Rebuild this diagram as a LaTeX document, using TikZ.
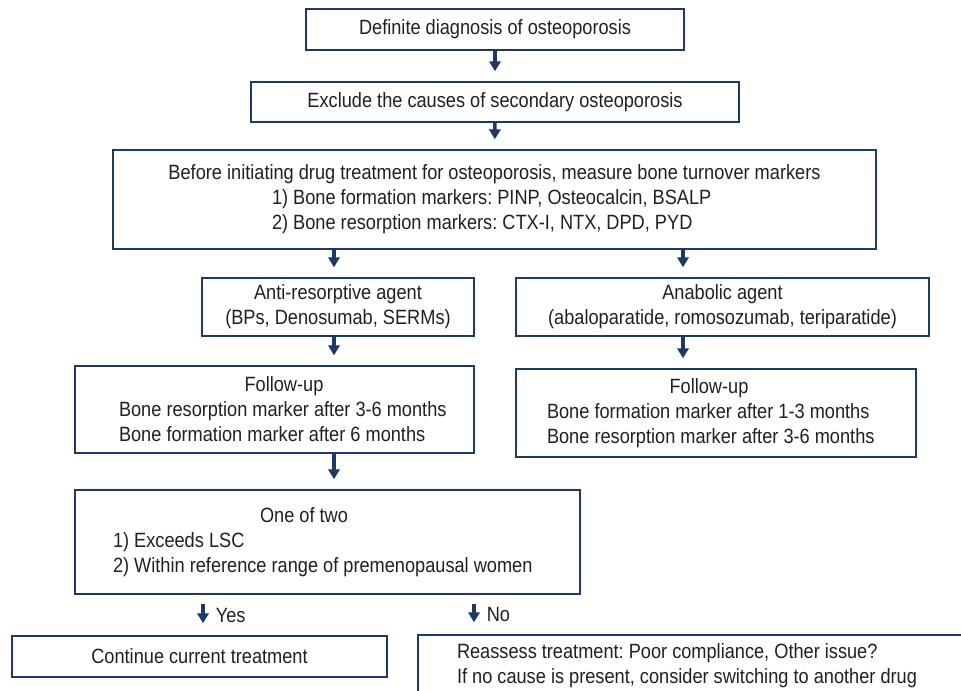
\documentclass[tikz,border=0pt]{standalone}
\usepackage{fontspec}
\setmainfont{Liberation Sans}[FakeStretch=0.88]
\usepackage{tikz}
\usetikzlibrary{arrows.meta}
\definecolor{boxline}{HTML}{1F3864}
\definecolor{ink}{HTML}{231F20}
\newcommand{\lline}[2]{\makebox[#1][l]{#2}}
\frenchspacing

\begin{document}
\begin{tikzpicture}[x=0.75pt,y=-0.75pt,>={Triangle[length=7.5pt,width=8.5pt]},
box/.style={draw=boxline,line width=1.1pt,text=ink,align=center,inner sep=0pt,
font=\fontsize{15.5}{18.75}\selectfont},
arr/.style={->,draw=boxline,line width=2.6pt,shorten >=7.5pt},
lab/.style={right=5pt,text=ink,font=\fontsize{15.5}{18.75}\selectfont}]
\useasboundingbox (0,0) rectangle (961,690);
\clip (0,0) rectangle (961,690);
\node[box,minimum width=283.5pt,minimum height=30.75pt] (diag) at (495,29.5)
{Definite diagnosis of osteoporosis};
\node[box,minimum width=366pt,minimum height=30pt] (excl) at (495,102)
{Exclude the causes of secondary osteoporosis};
\node[box,minimum width=572.25pt,minimum height=74.25pt] (meas) at (494.5,199.5)
{Before initiating drug treatment for osteoporosis, measure bone turnover markers\\
\lline{333.75pt}{1) Bone formation markers: PINP, Osteocalcin, BSALP}\\
\lline{333.75pt}{2) Bone resorption markers: CTX-I, NTX, DPD, PYD}};
\node[box,minimum width=204pt,minimum height=43.5pt] (anti) at (338,307)
{Anti-resorptive agent\\(BPs, Denosumab, SERMs)};
\node[box,minimum width=309.75pt,minimum height=43.5pt] (anab) at (722.5,307)
{Anabolic agent\\(abaloparatide, romosozumab, teriparatide)};
\node[box,minimum width=299.25pt,minimum height=65.25pt] (fupA) at (274.5,409.5)
{\hspace*{14.25pt}Follow-up\\
\lline{233.25pt}{Bone resorption marker after 3-6 months}\\
\lline{233.25pt}{Bone formation marker after 6 months}};
\node[box,minimum width=300pt,minimum height=66pt] (fupB) at (716,413)
{Follow-up\hspace*{10.5pt}\\
\lline{253.5pt}{Bone formation marker after 1-3 months}\\
\lline{253.5pt}{Bone resorption marker after 3-6 months}};
\node[box,minimum width=378.75pt,minimum height=78pt] (test) at (327.5,542)
{One of two\hspace*{35.25pt}\\
\lline{321.75pt}{1) Exceeds LSC}\\
\lline{321.75pt}{2) Within reference range of premenopausal women}};
\node[box,minimum width=281.25pt,minimum height=30.75pt] (cont) at (199.5,656.5)
{Continue current treatment};
\node[box,minimum width=421.5pt,minimum height=46.5pt] (reas) at (699,666)
{\lline{363pt}{Reassess treatment: Poor compliance, Other issue?}\\
\lline{363pt}{If no cause is present, consider switching to another drug}};
\coordinate (lcol) at (334,0);
\coordinate (rcol) at (683,0);
\coordinate (ycol) at (203,0);
\coordinate (ncol) at (474,0);
\draw [boxline]
(diag) edge[arr] (excl)
(excl) edge[arr] (meas)
(meas.south -| lcol) edge[arr] (anti.north -| lcol)
(meas.south -| rcol) edge[arr] (anab.north -| rcol)
(anti.south -| lcol) edge[arr] (fupA.north -| lcol)
(anab.south -| rcol) edge[arr] (fupB.north -| rcol)
(fupA.south -| lcol) edge[arr] (test.north -| lcol);
\draw [boxline]
(test.south -| ycol) edge[arr,shorten <=6.75pt,shorten >=9pt] node[lab] {Yes} (cont.north -| ycol)
(test.south -| ncol) edge[arr,shorten <=6.75pt,shorten >=9pt] node[lab] {No} (reas.north -| ncol);
\end{tikzpicture}
\end{document}
